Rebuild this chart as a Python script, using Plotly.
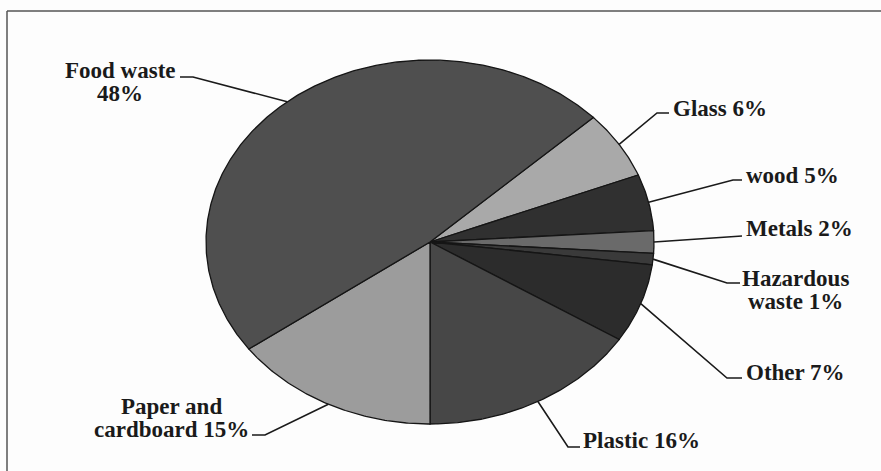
import numpy as np
import plotly.graph_objects as go

# Waste composition (%), listed clockwise starting after the food-waste slice
categories = ["Glass", "wood", "Metals", "Hazardous waste", "Other",
              "Plastic", "Paper and cardboard", "Food waste"]
shares = [6, 5, 2, 1, 7, 16, 15, 48]

# Slice fills (grey scale)
fills = ["#a9a9a9", "#303030", "#6a6a6a", "#3a3a3a", "#2c2c2c",
         "#474747", "#9c9c9c", "#4f4f4f"]

# Label text lines for each slice
label_lines = [
    ["Glass 6%"],
    ["wood 5%"],
    ["Metals 2%"],
    ["Hazardous", "waste 1%"],
    ["Other 7%"],
    ["Plastic 16%"],
    ["Paper and", "cardboard 15%"],
    ["Food waste", "48%"],
]

# Layout of the pie (pixel-space axes): centre, radii, start angle
CX, CY, RX, RY = 430, 242, 224, 182
END_OF_LAST = 180.0  # Plastic slice ends pointing straight down

# Label anchors: (text x, first line y, xanchor), elbow point, tail end point
label_layout = [
    ((671, 108, "left"), (657, 113), (669, 113)),
    ((744, 175, "left"), (733, 180), (742, 180)),
    ((744, 228, "left"), (733, 236), (742, 236)),
    ((795, 278, "center"), (727, 283), (740, 283)),
    ((744, 372, "left"), (727, 378), (742, 378)),
    ((581, 440, "left"), (568, 447), (580, 447)),
    ((171, 406, "center"), (265, 435), (252, 435)),
    ((120, 70, "center"), (193, 77), (180, 77)),
]

FONT = dict(family="Liberation Serif", size=23, color="#1a1a1a")
LINE_GAP = 23

total = float(sum(shares))
# angles measured clockwise from 12 o'clock; Plastic ends at 180 deg
cum = np.cumsum([0] + shares) / total * 360.0
offset = END_OF_LAST - cum[6]
starts = cum[:-1] + offset
ends = cum[1:] + offset


def ell(theta_deg):
    t = np.radians(theta_deg)
    return CX + RX * np.sin(t), CY - RY * np.cos(t)


fig = go.Figure()

for i, cat in enumerate(categories):
    th = np.linspace(starts[i], ends[i], max(8, int((ends[i] - starts[i]) * 2)))
    ex, ey = ell(th)
    xs = np.concatenate([[CX], ex, [CX]])
    ys = np.concatenate([[CY], ey, [CY]])
    fig.add_trace(go.Scatter(
        x=xs, y=ys, mode="lines", fill="toself", fillcolor=fills[i],
        line=dict(color="#151515", width=1.3), name=cat,
        hoverinfo="name", showlegend=False))

# leader lines: from slice mid-point on the rim to the label
for i, cat in enumerate(categories):
    mid = (starts[i] + ends[i]) / 2.0
    sx, sy = ell(mid)
    (_, _, _), (elx, ely), (tx, ty) = label_layout[i]
    fig.add_trace(go.Scatter(
        x=[sx, elx, tx], y=[sy, ely, ty], mode="lines",
        line=dict(color="#1a1a1a", width=1.6),
        hoverinfo="skip", showlegend=False))

annotations = []
for i, lines in enumerate(label_lines):
    (x0, y0, anchor), _, _ = label_layout[i]
    for k, txt in enumerate(lines):
        annotations.append(dict(
            x=x0, y=y0 + k * LINE_GAP, xref="x", yref="y",
            text=f"<b>{txt}</b>", showarrow=False,
            xanchor=anchor, yanchor="middle", font=FONT))

fig.update_layout(
    width=881, height=471,
    margin=dict(l=0, r=0, t=0, b=0),
    paper_bgcolor="#fdfdfd", plot_bgcolor="#fdfdfd",
    xaxis=dict(range=[0, 881], visible=False, fixedrange=True),
    yaxis=dict(range=[471, 0], visible=False, fixedrange=True),
    annotations=annotations,
    shapes=[
        dict(type="line", xref="x", yref="y", x0=7, y0=11, x1=881, y1=11,
             line=dict(color="#555555", width=1.5)),
        dict(type="line", xref="x", yref="y", x0=7, y0=11, x1=7, y1=471,
             line=dict(color="#555555", width=1.5)),
    ],
)

fig.write_html("out.html")
